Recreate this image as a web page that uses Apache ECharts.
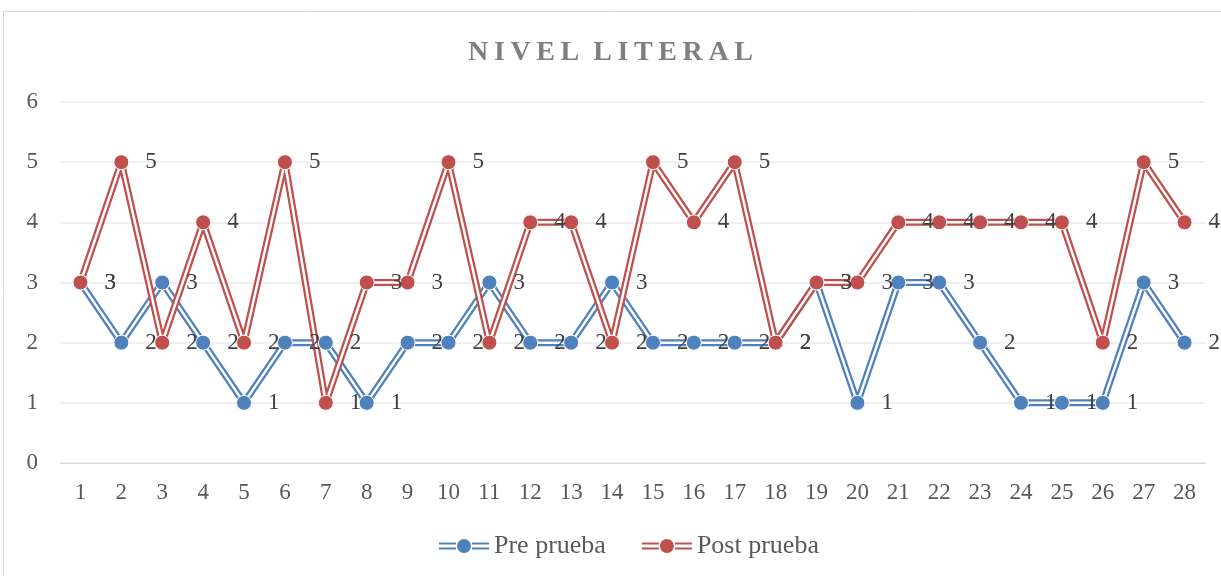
<!DOCTYPE html>
<html>
<head>
<meta charset="utf-8">
<script src="https://cdn.jsdelivr.net/npm/echarts@6/dist/echarts.min.js"></script>
<style>
  html, body { margin: 0; padding: 0; background: #fff; }
  #main { width: 1221px; height: 576px; }
</style>
</head>
<body>
<div id="main"></div>
<script>
  const categories = ['1','2','3','4','5','6','7','8','9','10','11','12','13','14','15','16','17','18','19','20','21','22','23','24','25','26','27','28']
  const prePrueba = [3, 2, 3, 2, 1, 2, 2, 1, 2, 2, 3, 2, 2, 3, 2, 2, 2, 2, 3, 1, 3, 3, 2, 1, 1, 1, 3, 2]
  const postPrueba = [3, 5, 2, 4, 2, 5, 1, 3, 3, 5, 2, 4, 4, 2, 5, 4, 5, 2, 3, 3, 4, 4, 4, 4, 4, 2, 5, 4]

  const font = 'Liberation Serif'
  const blue = '#4F81BD'
  const red = '#C0504D'
  // double line legend icon: two bars, dot, two bars
  const legendIcon = 'path://M0,4L17,4L17,6L0,6Z M0,9L17,9L17,11L0,11Z M33,4L50,4L50,6L33,6Z M33,9L50,9L50,11L33,11Z M18,7.5A7,7 0 1 0 32,7.5A7,7 0 1 0 18,7.5Z'

  var baseLine = function (name, data, color) {
    return {
      name: name,
      type: 'line',
      data: data,
      showSymbol: false,
      silent: true,
      lineStyle: { color: color, width: 7 },
      itemStyle: { color: color }
    }
  }
  var topLine = function (name, data, color) {
    return {
      name: name,
      type: 'line',
      data: data,
      symbol: 'circle',
      symbolSize: 15,
      lineStyle: { color: '#fff', width: 2.5 },
      itemStyle: { color: color, borderColor: '#fff', borderWidth: 1 },
      label: {
        show: true,
        position: 'right',
        distance: 16,
        color: '#404040',
        fontFamily: font,
        fontSize: 23
      }
    }
  }

  var myChart = echarts.init(document.getElementById('main'))
  var option = {
    animation: false,
    backgroundColor: '#fff',
    title: {
      text: 'N\u2009I\u2009V\u2009E\u2009L\u2002L\u2009I\u2009T\u2009E\u2009R\u2009A\u2009L',
      left: 'center',
      top: 34,
      textStyle: { fontFamily: font, fontWeight: 'bold', fontSize: 28, color: '#7F7F7F' }
    },
    graphic: [{
      type: 'rect',
      shape: { x: 3.5, y: 11.5, width: 1300, height: 700 },
      style: { fill: 'none', stroke: '#D9D9D9', lineWidth: 1 },
      silent: true,
      z: -1
    }],
    grid: { left: 60, right: 16, top: 102, bottom: 113 },
    legend: {
      bottom: 12,
      left: 434,
      itemGap: 36,
      itemWidth: 50,
      itemHeight: 15,
      data: [
        { name: 'Pre prueba', icon: legendIcon },
        { name: 'Post prueba', icon: legendIcon }
      ],
      itemStyle: { borderWidth: 0 },
      textStyle: { fontFamily: font, fontSize: 26, color: '#595959' }
    },
    xAxis: {
      type: 'category',
      data: categories,
      axisTick: { show: false },
      axisLine: { lineStyle: { color: '#D9D9D9' } },
      axisLabel: { fontFamily: font, fontSize: 23, color: '#595959', margin: 18 }
    },
    yAxis: {
      type: 'value',
      min: 0,
      max: 6,
      interval: 1,
      splitLine: { lineStyle: { color: '#EBEBEB', width: 1.5 } },
      axisLabel: { fontFamily: font, fontSize: 23, color: '#595959', margin: 22 }
    },
    series: [
      baseLine('pre-base', prePrueba, blue),
      topLine('Pre prueba', prePrueba, blue),
      baseLine('post-base', postPrueba, red),
      topLine('Post prueba', postPrueba, red)
    ]
  }
  myChart.setOption(option)
</script>
</body>
</html>
